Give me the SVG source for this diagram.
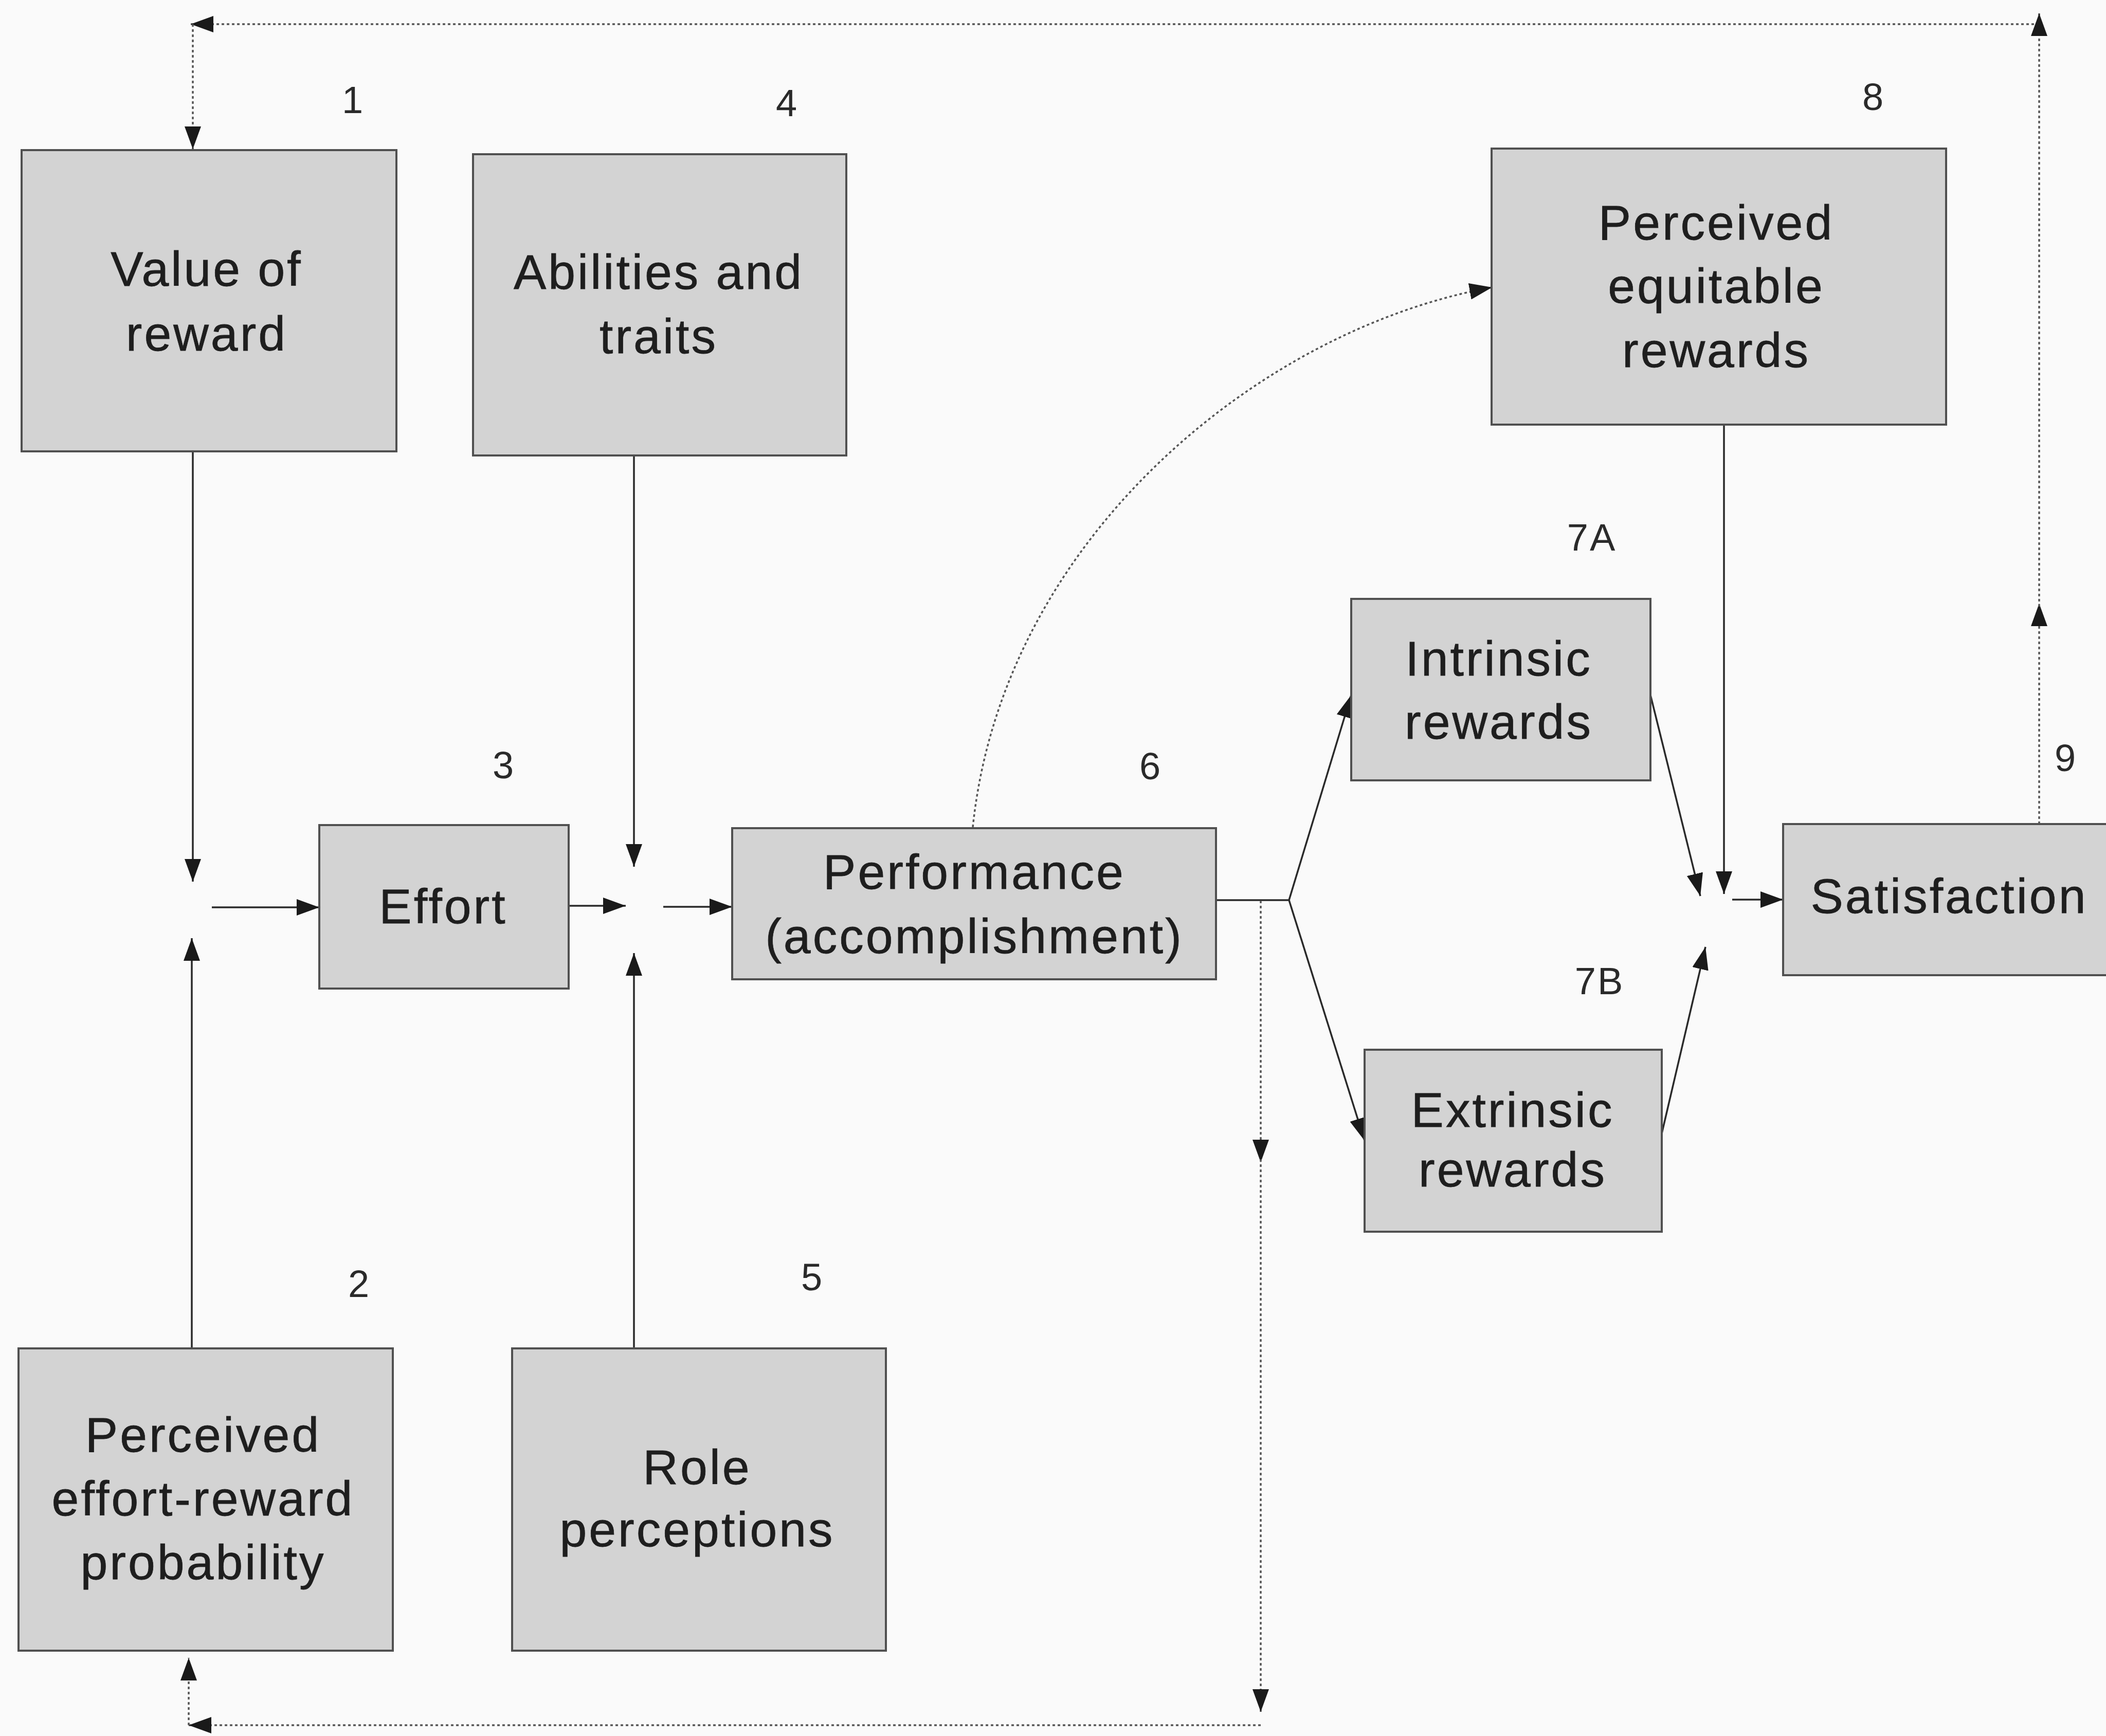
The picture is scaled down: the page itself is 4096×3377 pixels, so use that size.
<svg xmlns="http://www.w3.org/2000/svg" width="4096" height="3377" viewBox="0 0 4096 3377">
<style>
.box{fill:#d3d3d3;stroke:#505050;stroke-width:4}
.t{font-family:"Liberation Sans",Arial,sans-serif;font-size:95px;fill:#1e1e1e;text-anchor:middle;letter-spacing:4px;stroke:#1e1e1e;stroke-width:0.8}
.n{font-family:"Liberation Sans",Arial,sans-serif;font-size:74px;fill:#2a2a2a;text-anchor:middle;letter-spacing:3px}
.s{fill:none;stroke:#2a2a2a;stroke-width:3.5;marker-end:url(#ah)}
.d{fill:none;stroke:#555;stroke-width:3.5;stroke-dasharray:5 5;marker-end:url(#ah)}
.p{fill:none;stroke:#2a2a2a;stroke-width:3.5}
</style>
<defs>
<marker id="ah" markerUnits="userSpaceOnUse" orient="auto" refX="44" refY="16" markerWidth="44" markerHeight="32" viewBox="0 0 44 32">
<path d="M0,0 L44,16 L0,32 z" fill="#1a1a1a"/>
</marker>
</defs>
<rect x="0" y="0" width="4096" height="3377" fill="#fafafa"/>

<g id="connectors">
<path class="d" d="M3966,47 L371,47"/>
<path class="d" d="M375,47 L375,290"/>
<path class="d" d="M3966,1603 L3966,1174"/>
<path class="d" d="M3966,1180 L3966,26"/>
<path class="s" d="M375,878 L375,1715"/>
<path class="s" d="M373,2623 L373,1825"/>
<path class="s" d="M412,1765 L621,1765"/>
<path class="s" d="M1106,1762 L1217,1762"/>
<path class="s" d="M1233,886 L1233,1686"/>
<path class="s" d="M1233,2623 L1233,1854"/>
<path class="s" d="M1290,1764 L1424,1764"/>
<path class="p" d="M2365,1751 L2507,1751"/>
<path class="s" d="M2507,1751 L2628,1352"/>
<path class="s" d="M2507,1751 L2654,2219"/>
<path class="s" d="M3210,1352 L3307,1743"/>
<path class="s" d="M3353,826 L3353,1739"/>
<path class="s" d="M3232,2205 L3317,1842"/>
<path class="s" d="M3369,1750 L3468,1750"/>
<path class="d" d="M2452,1752 L2452,2261"/>
<path class="d" d="M2452,2255 L2452,3330"/>
<path class="d" d="M2452,3356 L367,3356"/>
<path class="d" d="M367,3356 L367,3225"/>
<path class="d" d="M1892,1609 C1950,1050 2450,640 2902,559"/>
</g>

<g id="n1"><rect class="box" x="42" y="292" width="729" height="586"/>
<text class="t" x="402" y="556">Value of</text><text class="t" x="402" y="682">reward</text></g>
<g id="n4"><rect class="box" x="920" y="300" width="726" height="586"/>
<text class="t" x="1281" y="562">Abilities and</text><text class="t" x="1281" y="687">traits</text></g>
<g id="n8"><rect class="box" x="2901" y="289" width="884" height="537"/>
<text class="t" x="3338" y="466">Perceived</text><text class="t" x="3338" y="589">equitable</text><text class="t" x="3338" y="714">rewards</text></g>
<g id="n3"><rect class="box" x="621" y="1605" width="485" height="318"/>
<text class="t" x="862" y="1796">Effort</text></g>
<g id="n6"><rect class="box" x="1424" y="1611" width="941" height="294"/>
<text class="t" x="1895" y="1729">Performance</text><text class="t" x="1895" y="1854">(accomplishment)</text></g>
<g id="n7a"><rect class="box" x="2628" y="1165" width="582" height="353"/>
<text class="t" x="2915" y="1314">Intrinsic</text><text class="t" x="2915" y="1437">rewards</text></g>
<g id="n7b"><rect class="box" x="2654" y="2042" width="578" height="354"/>
<text class="t" x="2942" y="2192">Extrinsic</text><text class="t" x="2942" y="2308">rewards</text></g>
<g id="n9"><rect class="box" x="3468" y="1603" width="720" height="294"/>
<text class="t" x="3791" y="1776">Satisfaction</text></g>
<g id="n2"><rect class="box" x="36" y="2623" width="728" height="588"/>
<text class="t" x="395" y="2824">Perceived</text><text class="t" x="395" y="2948">effort-reward</text><text class="t" x="395" y="3072">probability</text></g>
<g id="n5"><rect class="box" x="996" y="2623" width="727" height="588"/>
<text class="t" x="1356" y="2887">Role</text><text class="t" x="1356" y="3008">perceptions</text></g>

<g id="labels">
<text class="n" x="687" y="220">1</text>
<text class="n" x="1531" y="226">4</text>
<text class="n" x="3644" y="214">8</text>
<text class="n" x="980" y="1514">3</text>
<text class="n" x="2238" y="1516">6</text>
<text class="n" x="3096" y="1071">7A</text>
<text class="n" x="3111" y="1934">7B</text>
<text class="n" x="4018" y="1500">9</text>
<text class="n" x="699" y="2523">2</text>
<text class="n" x="1580" y="2510">5</text>
</g>
</svg>
